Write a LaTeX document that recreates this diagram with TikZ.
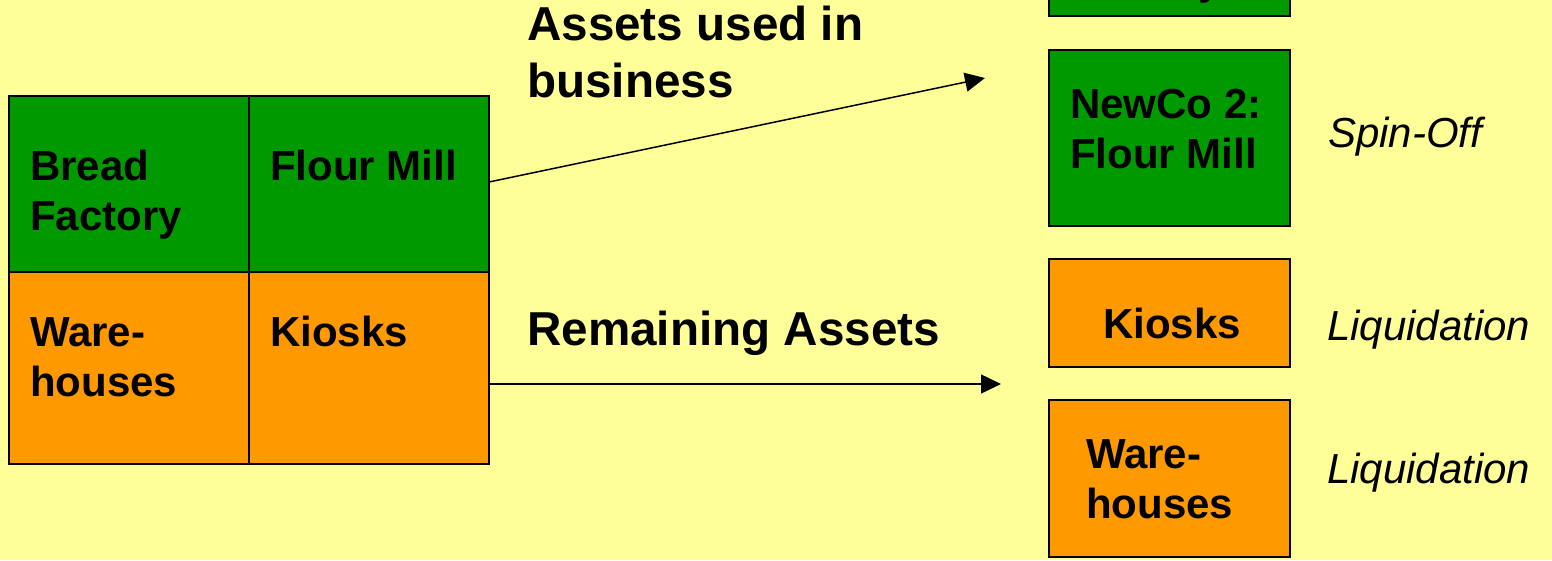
\documentclass[tikz,border=0pt]{standalone}
\usepackage{fontspec}
\setmainfont{Liberation Sans}
\usetikzlibrary{arrows.meta}
\definecolor{bg}{HTML}{FFFF99}
\definecolor{grn}{HTML}{009900}
\definecolor{org}{HTML}{FF9900}
\newcommand\mylines[1]{\begin{tabular}[t]{@{}l@{}}#1\end{tabular}}
\begin{document}
\begin{tikzpicture}[x=1pt,y=-1pt,
  box/.style={draw=black, line width=1.5pt, anchor=north west, inner sep=0pt, outer sep=0pt},
  gbox/.style={box, fill=grn},
  obox/.style={box, fill=org},
  bt/.style={font=\fontsize{42}{50}\selectfont\bfseries, anchor=base west, inner sep=0pt},
  lbl/.style={font=\fontsize{47.6}{57}\selectfont\bfseries, anchor=base west, inner sep=0pt},
  it/.style={font=\fontsize{42}{50}\selectfont\itshape, anchor=base west, inner sep=0pt},
  arr/.style={-{Triangle[length=20pt,width=19pt]}, line width=1.5pt, draw=black}]
\useasboundingbox (0,0) rectangle (1552,560);
\fill[bg] (0,0) rectangle (1552,560);
\clip (0,0) rectangle (1552,560);

% left grid
\node[gbox, minimum width=240pt, minimum height=176pt] (bf) at (9,96) {};
\node[gbox, minimum width=240pt, minimum height=176pt] (fm) at (249,96) {};
\node[obox, minimum width=240pt, minimum height=192pt] (wh) at (9,272) {};
\node[obox, minimum width=240pt, minimum height=192pt] (ki) at (249,272) {};
\node[bt] (bft) at (30,180) {\mylines{Bread\\Factory}};
\node[bt] (fmt) at (270,180) {Flour Mill};
\node[bt] (wht) at (30,346) {\mylines{Ware-\\houses}};
\node[bt] (kit) at (270,346) {Kiosks};

% right boxes (top one is cut off by the picture's edge)
\node[gbox, minimum width=241pt, minimum height=176pt] (n1) at (1049,-160) {};
\node[bt] (n1t) at (1070,-6) {Factory};
\node[gbox, minimum width=241pt, minimum height=176pt] (n2) at (1049,50) {};
\node[bt] (n2t) at (1070,118) {\mylines{NewCo 2:\\Flour Mill}};
\node[obox, minimum width=241pt, minimum height=108pt] (rk) at (1049,259) {};
\node[bt] (rkt) at (1103,338) {Kiosks};
\node[obox, minimum width=241pt, minimum height=157pt] (rw) at (1049,400) {};
\node[bt] (rwt) at (1086,468) {\mylines{Ware-\\houses}};

% italic notes
\node[it] (so) at (1328,147) {Spin-Off};
\node[it] (lq1) at (1327,340) {Liquidation};
\node[it] (lq2) at (1327,483) {Liquidation};

% labels
\node[lbl] (l1) at (527,40) {\mylines{Assets used in\\business}};
\node[lbl] (l2) at (527,345) {Remaining Assets};

% arrows
\coordinate (t1) at (985,78);
\coordinate (t2) at (1001,384);
\draw[arr] ([yshift=2pt]fm.east) -- (t1);
\draw[arr] ([yshift=-16pt]ki.east) -- (t2);
\end{tikzpicture}
\end{document}
